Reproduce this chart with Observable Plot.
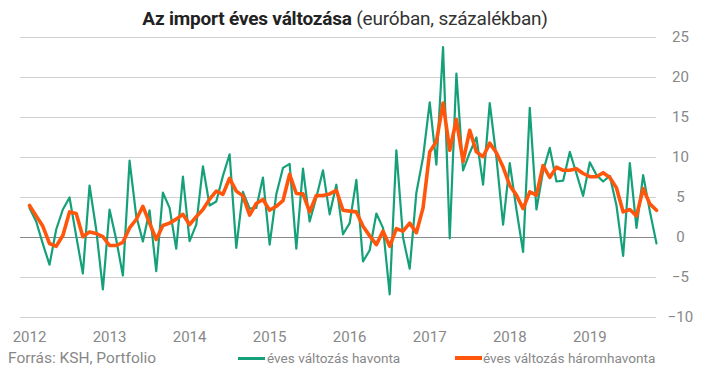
<!DOCTYPE html>
<html><head><meta charset="utf-8">
<script src="https://cdn.jsdelivr.net/npm/d3@7"></script>
<script src="https://cdn.jsdelivr.net/npm/@observablehq/plot@0.6"></script>
<style>
body{margin:0;background:#fff;font-family:Roboto,sans-serif;}
#wrap{position:relative;width:708px;height:375px;overflow:hidden}
#title{position:absolute;left:0;top:6px;width:690px;text-align:center;font-size:19px;color:#333;line-height:26px;letter-spacing:-0.2px}
#title b{color:#222}
#chart{position:absolute;left:0;top:33px}
#chart svg{overflow:visible}
.foot{position:absolute;top:348px;font-size:15.5px;color:#888;line-height:20px;white-space:nowrap}
.leg{position:absolute;top:350px;font-size:13.6px;color:#888;line-height:16px;white-space:nowrap}
.sw{position:absolute;top:357px;height:3px}
</style></head>
<body><div id="wrap">
<div id="chart"></div>
<div id="title"><b>Az import éves változása</b> (euróban, százalékban)</div>
<div class="foot" style="left:8px">Forrás: KSH, Portfolio</div>
<div class="sw" style="left:238px;width:27px;background:#16a07a"></div>
<div class="leg" style="left:267px">éves változás havonta</div>
<div class="sw" style="left:455px;width:27px;background:#ff560c;height:4px;top:356px"></div>
<div class="leg" style="left:483px">éves változás háromhavonta</div>
</div>
<script>
const startYear = 2012;
const seriesNames = ["éves változás havonta", "éves változás háromhavonta"];
const monthly = [3.7, 2.0, -0.8, -3.4, 1.0, 3.5, 5.0, 0.2, -4.5, 6.5, 1.0, -6.5,
  3.5, -0.25, -4.75, 9.6, 2.7, -0.5, 3.4, -4.2, 5.6, 3.7, -1.4, 7.6,
  -0.45, 1.6, 8.9, 4.0, 4.5, 7.7, 10.4, -1.3, 5.7, 3.6, 3.7, 7.5,
  -0.9, 5.4, 8.7, 9.2, -1.4, 8.6, 2.0, 5.0, 8.4, 2.9, 6.6, 0.4,
  1.8, 7.2, -3.0, -1.6, 3.0, 1.2, -7.1, 10.9, 0.0, -3.9, 5.6, 10.0,
  16.9, 9.1, 23.8, -0.1, 20.5, 8.4, 10.6, 12.5, 6.6, 16.8, 10.0, 1.6,
  9.3, 3.5, -1.8, 16.2, 3.5, 8.3, 11.2, 7.0, 7.1, 10.7, 8.0, 5.2,
  9.4, 7.8, 7.0, 7.7, 4.0, -2.3, 9.3, 1.2, 7.8, 3.3, -0.75];
const quarterly = [4.0, 2.7, 1.4, -0.75, -1.1, 0.25, 3.2, 3.0, 0.1, 0.7, 0.5, 0.1,
  -1.0, -1.0, -0.6, 1.2, 2.25, 3.9, 1.8, -0.25, 1.5, 1.8, 2.3, 2.9,
  1.6, 2.6, 3.5, 4.8, 5.8, 5.4, 7.4, 5.8, 5.2, 2.8, 4.25, 4.75,
  3.4, 3.9, 4.6, 7.9, 5.5, 5.45, 3.2, 5.25, 5.25, 5.45, 5.9, 3.4,
  3.3, 3.2, 1.4, 0.2, -0.9, 0.8, -1.1, 1.1, 0.8, 1.8, 0.6, 3.7,
  10.7, 12.0, 16.8, 10.9, 14.75, 9.5, 13.4, 10.7, 10.1, 11.8, 10.6, 8.8,
  6.5, 5.3, 3.6, 5.7, 5.3, 9.0, 7.5, 8.8, 8.4, 8.4, 8.6, 8.0,
  7.6, 7.6, 8.1, 7.5, 6.2, 3.2, 3.5, 2.7, 6.1, 4.2, 3.4];
const yearTicks = [2012, 2013, 2014, 2015, 2016, 2017, 2018, 2019];
const valueTicks = [-10, -5, 0, 5, 10, 15, 20, 25];

const data = monthly.map((v, i) => ({t: startYear + i / 12, m: v, q: quarterly[i]}));
const lastT = data[data.length - 1].t;

const chart = Plot.plot({
  width: 708,
  height: 318,
  marginTop: 4,
  marginBottom: 34,
  marginLeft: 20,
  marginRight: 52,
  style: {fontFamily: "Roboto, sans-serif", fontSize: "15px", color: "#888", background: "transparent", overflow: "visible"},
  x: {type: "linear", domain: [startYear - 1.35 / 12, lastT]},
  y: {domain: [-10, 25]},
  marks: [
    Plot.ruleY(valueTicks.filter(d => d !== 0), {stroke: "#d0d0d0", strokeWidth: 1.2}),
    Plot.ruleY([0], {stroke: "#8a8a8a", strokeWidth: 1.2}),
    Plot.line(data, {x: "t", y: "m", stroke: "#16a07a", strokeWidth: 2.2}),
    Plot.line(data, {x: "t", y: "q", stroke: "#ff560c", strokeWidth: 3.6}),
    Plot.axisX(yearTicks, {tickSize: 0, tickPadding: 14, tickFormat: d => String(d), label: null, fontSize: 15}),
    Plot.axisY(valueTicks, {anchor: "right", tickSize: 0, tickPadding: 24, textAnchor: "middle", label: null, fontSize: 15})
  ]
});
document.getElementById("chart").appendChild(chart);
</script>
</body></html>
